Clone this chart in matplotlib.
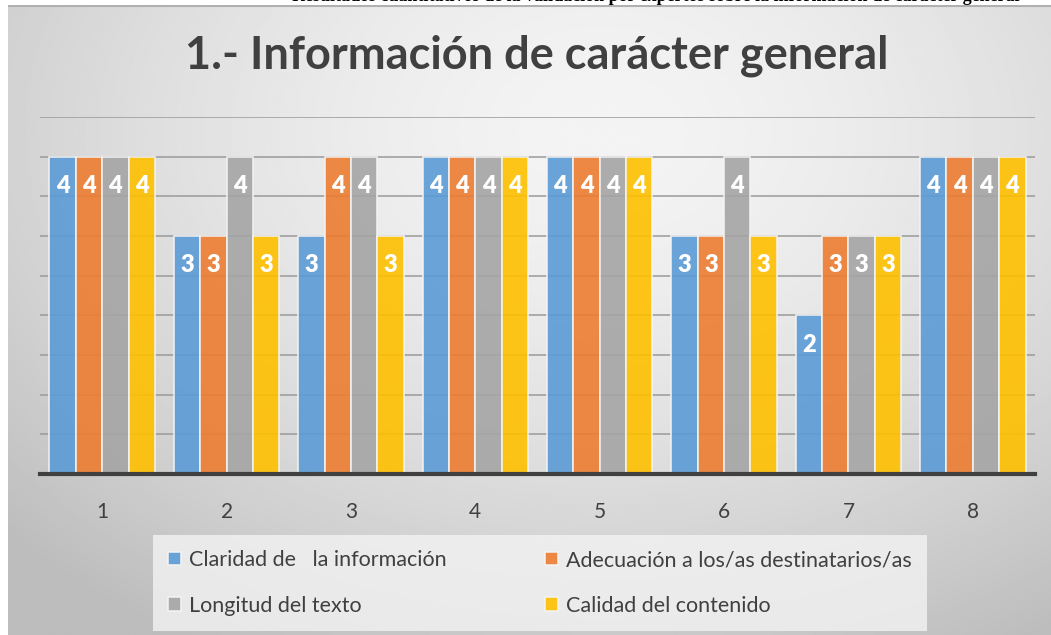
import numpy as np
import matplotlib.pyplot as plt

plt.rcParams['font.family'] = ['Lato', 'DejaVu Sans']

categorias = ["1", "2", "3", "4", "5", "6", "7", "8"]
claridad = [4, 3, 3, 4, 4, 3, 2, 4]
adecuacion = [4, 3, 4, 4, 4, 3, 3, 4]
longitud = [4, 4, 4, 4, 4, 4, 3, 4]
calidad = [4, 3, 3, 4, 4, 3, 3, 4]

series = [
    ("Claridad de   la información", claridad, "#5b9bd5"),
    ("Adecuación a los/as destinatarios/as", adecuacion, "#ed7d31"),
    ("Longitud del texto", longitud, "#a5a5a5"),
    ("Calidad del contenido", calidad, "#ffc000"),
]

fig = plt.figure(figsize=(10.51, 6.35), dpi=100)
W, H = 1051, 635

# fondo con degradado radial
bg = fig.add_axes([8 / W, 0, 1 - 8 / W, 630 / H], zorder=0)
yy, xx = np.mgrid[0:1:300j, 0:1:500j]
r = np.sqrt(((xx - 0.57) / 0.75) ** 2 + ((yy - 0.2) / 0.9) ** 2)
g = np.clip(0.955 - 0.2 * r ** 1.6, 0.74, 0.96)
bg.imshow(g, cmap="gray", vmin=0, vmax=1, aspect="auto", extent=[0, 1, 1, 0])
bg.set_xlim(0, 1)
bg.set_ylim(1, 0)
bg.axis("off")
bg.plot([0, 1], [0.002, 0.002], color="#b0b0b0", lw=1.5)

# titulo del documento, cortado arriba como en el original
fig.text(1020 / W, 1 - 1 / H, "Resultados cuantitativos de la validación por expertos sobre la información de carácter general",
         ha="right", va="baseline", fontsize=13, fontweight="bold",
         family="Liberation Serif", color="black")

fig.text(537 / W, 1 - 56 / H, "1.- Información de carácter general", ha="center", va="center",
         fontsize=32.5, fontweight="bold", color="#404040")

ax = fig.add_axes([40 / W, 161 / H, 995 / W, 357 / H], zorder=1)
ax.patch.set_alpha(0)

x = np.arange(1, len(categorias) + 1)
ancho = 0.212
handles = []
for i, (nombre, vals, col) in enumerate(series):
    pos = x + (i - 1.5) * ancho
    bars = ax.bar(pos, vals, width=ancho, color=col, alpha=0.9, edgecolor="#f4f4f4",
                  linewidth=1.2, label=nombre, zorder=2)
    handles.append(bars)
    for px, v in zip(pos, vals):
        ax.text(px, v - 0.37, str(v), ha="center", va="center", color="white",
                fontsize=17, fontweight="heavy", zorder=3)

ax.set_xlim(0.5, 8.5)
ax.set_ylim(0, 4.5)
ax.set_yticks(np.arange(0.5, 4.51, 0.5))
ax.set_yticklabels([])
ax.tick_params(axis="y", length=0)
ax.grid(axis="y", color="#9a9a9a", linewidth=1.1, zorder=1)
ax.set_axisbelow(True)
ax.set_xticks(x)
ax.set_xticklabels(categorias, fontsize=15, color="#404040")
ax.tick_params(axis="x", length=0, pad=20)
for s in ["top", "right", "left"]:
    ax.spines[s].set_visible(False)
ax.spines["bottom"].set_color("#404040")
ax.spines["bottom"].set_linewidth(3)
ax.spines["bottom"].set_zorder(4)

# orden por filas: Claridad, Adecuación / Longitud, Calidad
orden = [0, 2, 1, 3]
leg = fig.legend([handles[k] for k in orden], [series[k][0] for k in orden],
                 loc="center", bbox_to_anchor=(540 / W, 1 - 583 / H), ncol=2,
                 fontsize=15.5, frameon=True, fancybox=False, columnspacing=4.6,
                 handlelength=0.6, handleheight=0.6, handletextpad=0.35,
                 labelspacing=1.2, borderpad=0.7)
leg.get_frame().set_facecolor("#f3f3f3")
leg.get_frame().set_edgecolor("none")
for t in leg.get_texts():
    t.set_color("#404040")

fig.savefig("out.png", dpi=100)
